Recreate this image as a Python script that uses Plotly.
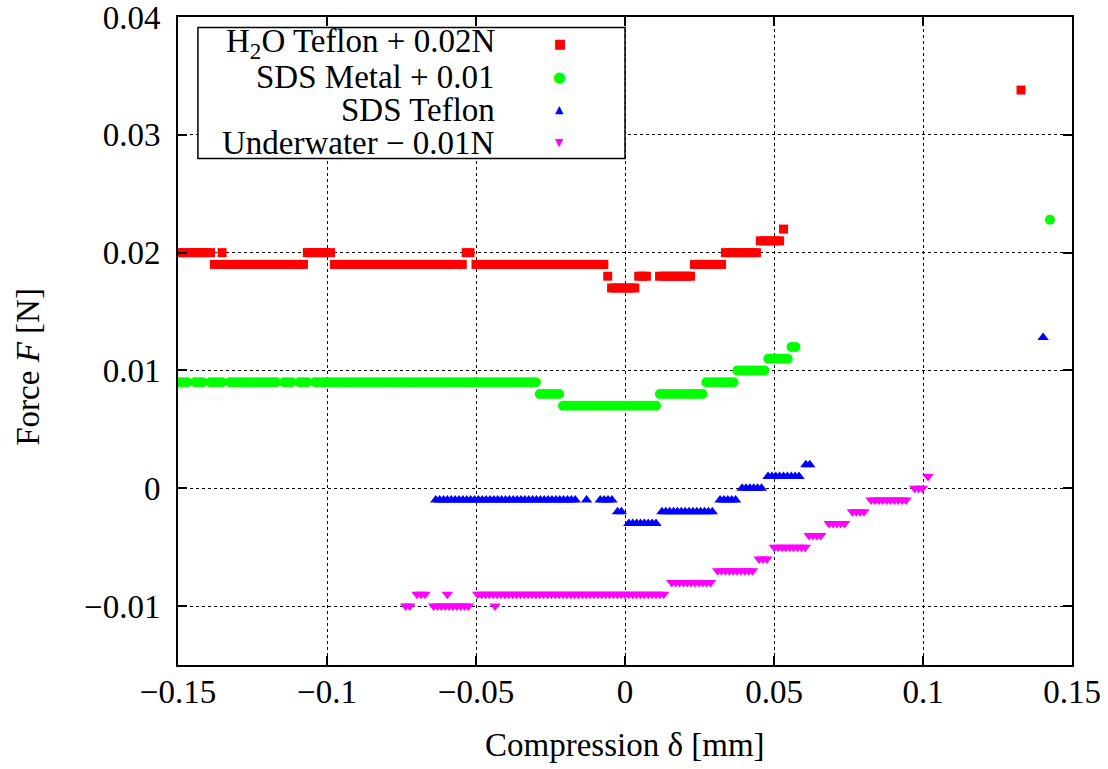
import plotly.graph_objects as go

# ---------------- data (x: compression δ [mm], y: force [N]) ----------------
# Each series is stored as runs of points that share one force level.

# H2O Teflon + 0.02N
h2o_levels = [0.020, 0.019, 0.020, 0.019, 0.020, 0.019, 0.020, 0.019, 0.018, 0.017,
              0.018, 0.018, 0.019, 0.020, 0.021, 0.022, 0.0338]
h2o_runs = [
    [-0.1495, -0.1482, -0.1469, -0.1456, -0.1443, -0.1430, -0.1417, -0.1404, -0.1391],
    [-0.1378, -0.1365],
    [-0.1352],
    [-0.1339, -0.1326, -0.1313, -0.1300, -0.1287, -0.1274, -0.1261, -0.1248, -0.1235, -0.1222,
     -0.1209, -0.1196, -0.1183, -0.1170, -0.1157, -0.1144, -0.1131, -0.1118, -0.1105, -0.1092,
     -0.1079],
    [-0.1066, -0.1053, -0.1040, -0.1027, -0.1014, -0.1001, -0.0988],
    [-0.0975, -0.0962, -0.0949, -0.0936, -0.0923, -0.0910, -0.0897, -0.0884, -0.0871, -0.0858,
     -0.0845, -0.0832, -0.0819, -0.0806, -0.0793, -0.0780, -0.0767, -0.0754, -0.0741, -0.0728,
     -0.0715, -0.0702, -0.0689, -0.0676, -0.0663, -0.0650, -0.0637, -0.0624, -0.0611, -0.0598,
     -0.0585, -0.0572, -0.0559, -0.0546],
    [-0.0533, -0.0520],
    [-0.0500, -0.0487, -0.0474, -0.0461, -0.0448, -0.0435, -0.0422, -0.0409, -0.0396, -0.0383,
     -0.0370, -0.0357, -0.0344, -0.0331, -0.0318, -0.0305, -0.0292, -0.0279, -0.0266, -0.0253,
     -0.0240, -0.0227, -0.0214, -0.0201, -0.0188, -0.0175, -0.0162, -0.0149, -0.0136, -0.0123,
     -0.0110, -0.0097, -0.0084, -0.0071],
    [-0.0058],
    [-0.0045, -0.0032, -0.0019, -0.0006, 0.0007, 0.0020, 0.0033],
    [0.0046, 0.0059, 0.0072],
    [0.0116, 0.0129, 0.0142, 0.0155, 0.0168, 0.0181, 0.0194, 0.0207, 0.0220],
    [0.0233, 0.0246, 0.0259, 0.0272, 0.0285, 0.0298, 0.0311, 0.0324],
    [0.0337, 0.0350, 0.0363, 0.0376, 0.0389, 0.0402, 0.0415, 0.0428, 0.0441],
    [0.0454, 0.0467, 0.0480, 0.0493, 0.0506, 0.0519],
    [0.0532],
    [0.1329],
]

# SDS Metal + 0.01
sdsm_levels = [0.009, 0.008, 0.007, 0.008, 0.009, 0.010, 0.011, 0.012, 0.0228]
sdsm_runs = [
    [-0.1495, -0.1482, -0.1469, -0.1443, -0.1430, -0.1417, -0.1391, -0.1378,
     -0.1365, -0.1352, -0.1326, -0.1313, -0.1300, -0.1287, -0.1274, -0.1261, -0.1248,
     -0.1235, -0.1222, -0.1209, -0.1196, -0.1183, -0.1170, -0.1144, -0.1131, -0.1118,
     -0.1092, -0.1079, -0.1066, -0.1040, -0.1027, -0.1014, -0.1001, -0.0988,
     -0.0975, -0.0962, -0.0949, -0.0936, -0.0923, -0.0910, -0.0897, -0.0884, -0.0871, -0.0858,
     -0.0845, -0.0832, -0.0819, -0.0806, -0.0793, -0.0780, -0.0767, -0.0754, -0.0741, -0.0728,
     -0.0715, -0.0702, -0.0689, -0.0676, -0.0663, -0.0650, -0.0637, -0.0624, -0.0611, -0.0598,
     -0.0585, -0.0572, -0.0559, -0.0546, -0.0533, -0.0520, -0.0507, -0.0494, -0.0481, -0.0468,
     -0.0455, -0.0442, -0.0429, -0.0416, -0.0403, -0.0390, -0.0377, -0.0364, -0.0351, -0.0338,
     -0.0325, -0.0312, -0.0299],
    [-0.0286, -0.0273, -0.0260, -0.0247, -0.0234, -0.0221],
    [-0.0208, -0.0195, -0.0182, -0.0169, -0.0156, -0.0143, -0.0130, -0.0117, -0.0104, -0.0091,
     -0.0078, -0.0065, -0.0052, -0.0039, -0.0026, -0.0013, 0.0000, 0.0013, 0.0026, 0.0039,
     0.0052, 0.0065, 0.0078, 0.0091, 0.0104],
    [0.0117, 0.0130, 0.0143, 0.0156, 0.0169, 0.0182, 0.0195, 0.0208, 0.0221, 0.0234, 0.0247, 0.0260],
    [0.0273, 0.0286, 0.0299, 0.0312, 0.0325, 0.0338, 0.0351, 0.0364],
    [0.0377, 0.0390, 0.0403, 0.0416, 0.0429, 0.0442, 0.0455, 0.0468],
    [0.0481, 0.0494, 0.0507, 0.0520, 0.0533, 0.0546],
    [0.0559, 0.0572],
    [0.1426],
]

# SDS Teflon
sdst_levels = [-0.001, -0.001, -0.001, -0.002, -0.003, -0.002, -0.001, 0.000, 0.001, 0.002, 0.0128]
sdst_runs = [
    [-0.0635, -0.0622, -0.0609, -0.0596, -0.0583, -0.0570, -0.0557, -0.0544, -0.0531, -0.0518,
     -0.0505, -0.0492, -0.0479, -0.0466, -0.0453, -0.0440, -0.0427, -0.0414, -0.0401, -0.0388,
     -0.0375, -0.0362, -0.0349, -0.0336, -0.0323, -0.0310, -0.0297, -0.0284, -0.0271, -0.0258,
     -0.0245, -0.0232, -0.0219, -0.0206, -0.0193, -0.0180, -0.0167],
    [-0.0129],
    [-0.0083, -0.0070, -0.0057, -0.0044],
    [-0.0025, -0.0012],
    [0.0013, 0.0026, 0.0039, 0.0052, 0.0065, 0.0078, 0.0091, 0.0104],
    [0.0124, 0.0137, 0.0150, 0.0163, 0.0176, 0.0189, 0.0202, 0.0215, 0.0228, 0.0241,
     0.0254, 0.0267, 0.0280, 0.0293],
    [0.0319, 0.0332, 0.0345, 0.0358, 0.0371],
    [0.0393, 0.0406, 0.0419, 0.0432, 0.0445, 0.0458],
    [0.0480, 0.0493, 0.0506, 0.0519, 0.0532, 0.0545, 0.0558, 0.0571, 0.0584],
    [0.0607, 0.0620],
    [0.1403],
]

# Underwater - 0.01N
uw_levels = [-0.010, -0.009, -0.010, -0.009, -0.010, -0.009, -0.010, -0.009, -0.008, -0.007,
             -0.006, -0.005, -0.004, -0.003, -0.002, -0.001, 0.000, 0.001]
uw_runs = [
    [-0.0736, -0.0722],
    [-0.0698, -0.0684, -0.0671],
    [-0.0642, -0.0629, -0.0616, -0.0603],
    [-0.0596],
    [-0.0590, -0.0577, -0.0564, -0.0551, -0.0538, -0.0525],
    [-0.0494, -0.0481, -0.0468, -0.0455, -0.0442],
    [-0.0436],
    [-0.0429, -0.0416, -0.0403, -0.0390, -0.0377, -0.0364, -0.0351, -0.0338, -0.0325, -0.0312,
     -0.0299, -0.0286, -0.0273, -0.0260, -0.0247, -0.0234, -0.0221, -0.0208, -0.0195, -0.0182,
     -0.0169, -0.0156, -0.0143, -0.0130, -0.0117, -0.0104, -0.0091, -0.0078, -0.0065, -0.0052,
     -0.0039, -0.0026, -0.0013, 0.0000, 0.0013, 0.0026, 0.0039, 0.0052, 0.0065, 0.0078,
     0.0091, 0.0104, 0.0117, 0.0130],
    [0.0157, 0.0170, 0.0183, 0.0196, 0.0209, 0.0222, 0.0235, 0.0248, 0.0261, 0.0274, 0.0287],
    [0.0311, 0.0324, 0.0337, 0.0350, 0.0363, 0.0376, 0.0389, 0.0402, 0.0415, 0.0428],
    [0.0450, 0.0463, 0.0476],
    [0.0501, 0.0514, 0.0527, 0.0540, 0.0553, 0.0566, 0.0579, 0.0592, 0.0605],
    [0.0618, 0.0631, 0.0644, 0.0657],
    [0.0685, 0.0698, 0.0711, 0.0724, 0.0737],
    [0.0763, 0.0776, 0.0789, 0.0802],
    [0.0826, 0.0839, 0.0852, 0.0865, 0.0878, 0.0891, 0.0904, 0.0917, 0.0930, 0.0943],
    [0.0972, 0.0985, 0.0998],
    [0.1017],
]

series_names = ["H<sub>2</sub>O Teflon + 0.02N", "SDS Metal + 0.01", "SDS Teflon", "Underwater \u2212 0.01N"]
x_ticks = [-0.15, -0.1, -0.05, 0, 0.05, 0.1, 0.15]
x_tick_text = ["\u22120.15", "\u22120.1", "\u22120.05", "0", "0.05", "0.1", "0.15"]
y_ticks = [-0.01, 0, 0.01, 0.02, 0.03, 0.04]
y_tick_text = ["\u22120.01", "0", "0.01", "0.02", "0.03", "0.04"]


def expand(levels, runs):
    xs, ys = [], []
    for lev, run in zip(levels, runs):
        for xv in run:
            xs.append(xv)
            ys.append(lev)
    return xs, ys


FONT = "Liberation Serif"
FS = 33

styles = [
    dict(symbol="square", size=9, color="#ff0000", glyph="\u25A0", gsize=13),
    dict(symbol="circle", size=10, color="#00ff00", glyph="\u25CF", gsize=15),
    dict(symbol="triangle-up", size=10, color="#0000ff", glyph="\u25B2", gsize=11),
    dict(symbol="triangle-down", size=10, color="#ff00ff", glyph="\u25BC", gsize=11),
]
data = [(h2o_levels, h2o_runs), (sdsm_levels, sdsm_runs), (sdst_levels, sdst_runs), (uw_levels, uw_runs)]

fig = go.Figure()
for (levels, runs), st, name in zip(data, styles, series_names):
    xs, ys = expand(levels, runs)
    fig.add_trace(go.Scatter(
        x=xs, y=ys, mode="markers", name=name, showlegend=False,
        marker=dict(symbol=st["symbol"], size=st["size"], color=st["color"], line=dict(width=0)),
    ))

axis_common = dict(
    showgrid=True, gridcolor="black", griddash="dot", gridwidth=1,
    zeroline=False, showline=True, linecolor="black", linewidth=2, mirror="ticks",
    ticks="inside", ticklen=9, tickwidth=1.5, tickcolor="black", automargin=False,
    ticklabeloverflow="allow",
    tickfont=dict(family=FONT, size=FS, color="black"),
)

fig.update_layout(
    width=1108, height=769,
    margin=dict(l=178, r=36, t=17, b=104),
    paper_bgcolor="white", plot_bgcolor="white",
    showlegend=False,
    xaxis=dict(range=[-0.15, 0.15], tickmode="array", tickvals=x_ticks, ticktext=x_tick_text,
               ticklabelstandoff=-4, **axis_common),
    yaxis=dict(range=[-0.015, 0.04], tickmode="array", tickvals=y_ticks, ticktext=y_tick_text,
               ticklabelstandoff=9, **axis_common),
)

# axis titles
fig.add_annotation(text="Compression \u03b4 [mm]", x=0.5, y=-0.123, xref="paper", yref="paper",
                   showarrow=False, xanchor="center", yanchor="middle",
                   font=dict(family=FONT, size=FS, color="black"))
fig.add_annotation(text="Force <i>F</i> [N]", x=-0.168, y=0.46, xref="paper", yref="paper",
                   showarrow=False, xanchor="center", yanchor="middle", textangle=-90,
                   font=dict(family=FONT, size=FS, color="black"))

# key box (gnuplot style: right-aligned text, sample on the right)
fig.add_shape(type="rect", xref="paper", yref="paper", x0=0.0223, x1=0.5, y0=0.7817, y1=0.9837,
              line=dict(color="black", width=1.5), fillcolor="white", layer="above")
row_y = [0.959, 0.9075, 0.8572, 0.8057]
for name, st, ry in zip(series_names, styles, row_y):
    fig.add_annotation(text=name, x=0.3565, y=ry, xref="paper", yref="paper", showarrow=False,
                       xanchor="right", yanchor="middle", font=dict(family=FONT, size=FS, color="black"))
    fig.add_annotation(text=st["glyph"], x=0.427, y=ry, xref="paper", yref="paper", showarrow=False,
                       xanchor="center", yanchor="middle",
                       font=dict(family="DejaVu Sans", size=st["gsize"], color=st["color"]))

fig.write_html("out.html", config={"displayModeBar": False},
               post_script="document.body.style.margin='0';document.body.style.overflow='hidden';")
